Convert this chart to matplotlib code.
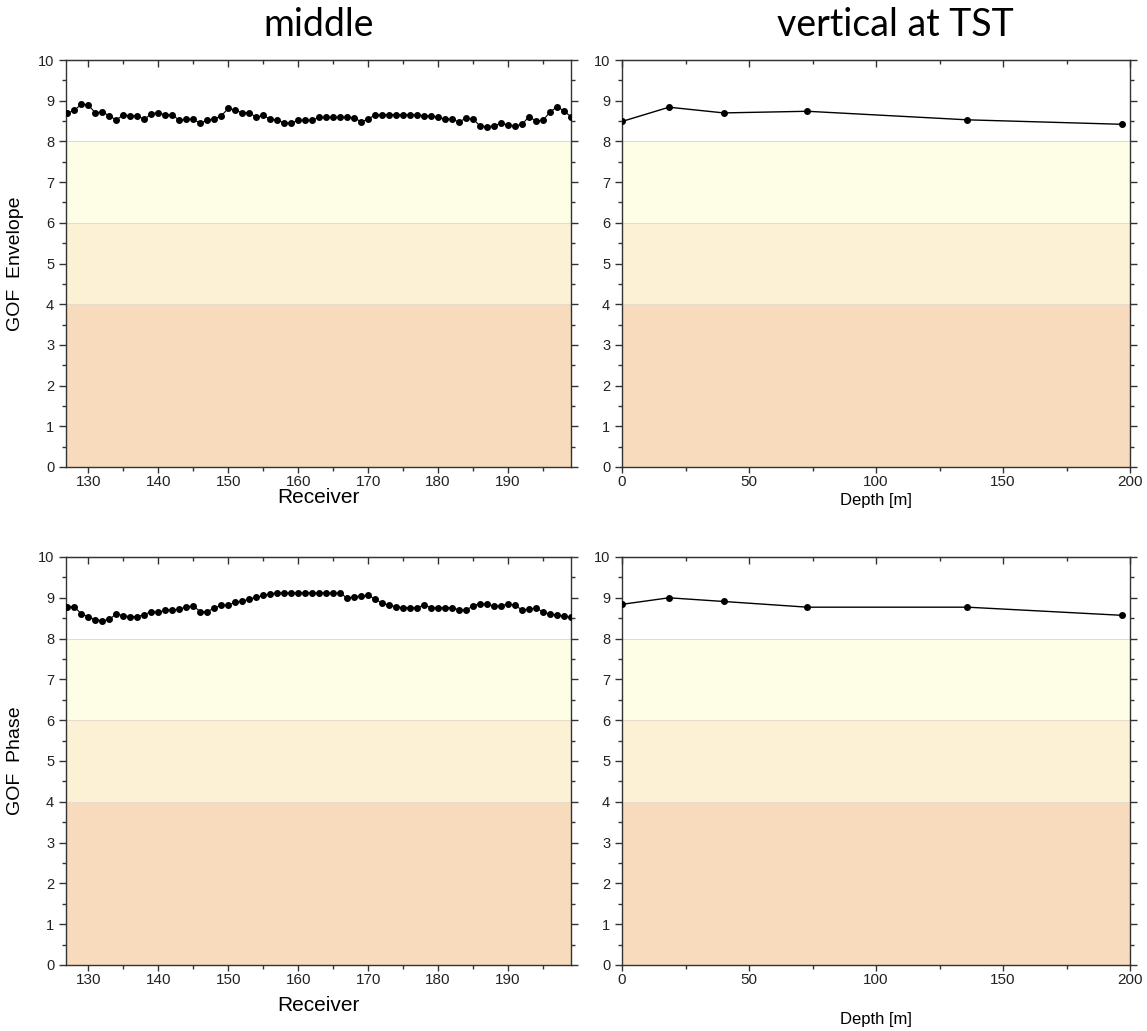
import matplotlib
matplotlib.use('Agg')
import matplotlib.pyplot as plt
from matplotlib.ticker import MultipleLocator
import numpy as np

# receivers along the middle line
receivers = list(range(127, 200))
env_middle = [8.70, 8.76, 8.92, 8.89, 8.70, 8.73, 8.62, 8.53, 8.65, 8.63,
              8.63, 8.54, 8.68, 8.71, 8.65, 8.65, 8.52, 8.54, 8.54, 8.45,
              8.52, 8.55, 8.63, 8.81, 8.77, 8.70, 8.71, 8.59, 8.65, 8.54,
              8.53, 8.45, 8.45, 8.52, 8.52, 8.52, 8.59, 8.59, 8.59, 8.59,
              8.60, 8.58, 8.48, 8.55, 8.65, 8.65, 8.66, 8.66, 8.66, 8.65,
              8.65, 8.63, 8.63, 8.59, 8.55, 8.54, 8.48, 8.57, 8.55, 8.38,
              8.36, 8.38, 8.45, 8.40, 8.38, 8.42, 8.61, 8.50, 8.52, 8.72,
              8.85, 8.75, 8.60]
phase_middle = [8.78, 8.78, 8.60, 8.54, 8.46, 8.44, 8.47, 8.61, 8.56, 8.54,
                8.54, 8.59, 8.66, 8.64, 8.70, 8.70, 8.72, 8.78, 8.80, 8.66,
                8.66, 8.75, 8.82, 8.82, 8.89, 8.92, 8.97, 9.01, 9.06, 9.10,
                9.12, 9.12, 9.12, 9.12, 9.12, 9.12, 9.12, 9.12, 9.11, 9.12,
                8.99, 9.03, 9.04, 9.06, 8.97, 8.87, 8.82, 8.78, 8.76, 8.76,
                8.76, 8.82, 8.76, 8.76, 8.76, 8.76, 8.70, 8.70, 8.80, 8.86,
                8.84, 8.80, 8.80, 8.85, 8.82, 8.70, 8.72, 8.75, 8.65, 8.60,
                8.58, 8.55, 8.52]

# vertical profile at TST
depths = [0, 18.5, 40, 73, 136, 197]
env_tst = [8.49, 8.84, 8.70, 8.74, 8.53, 8.42]
phase_tst = [8.84, 9.00, 8.91, 8.77, 8.77, 8.57]

# quality bands: (low, high, colour)
bands = [(0, 4, '#f8dabd'), (4, 6, '#fdf1d5'), (6, 8, '#fefde6')]

W, H = 1147, 1031
fig = plt.figure(figsize=(W / 100, H / 100), dpi=100)
plt.rcParams['font.family'] = ['Liberation Sans', 'DejaVu Sans']

def axes_px(x0, x1, y0, y1):
    return fig.add_axes([x0 / W, 1 - y1 / H, (x1 - x0) / W, (y1 - y0) / H])

def style(ax, xlim, xmaj, xmin):
    for lo, hi, c in bands:
        ax.axhspan(lo, hi, color=c, lw=0, zorder=0)
    for yb in (4, 6, 8):
        ax.axhline(yb, color='#e6dccb', lw=0.8, zorder=0.5)
    ax.set_xlim(*xlim)
    ax.set_ylim(0, 10)
    ax.xaxis.set_major_locator(MultipleLocator(xmaj))
    ax.xaxis.set_minor_locator(MultipleLocator(xmin))
    ax.yaxis.set_major_locator(MultipleLocator(1))
    ax.yaxis.set_minor_locator(MultipleLocator(0.5))
    for s in ax.spines.values():
        s.set_color('#333333')
        s.set_linewidth(1.0)
    ax.tick_params(which='both', direction='out', top=False, right=True,
                   color='#333333', labelsize=11, labelcolor='#222222')
    ax.tick_params(axis='y', labelsize=10.5)
    ax.tick_params(which='major', length=5, width=1)
    ax.tick_params(which='minor', length=3, width=1)
    ax.tick_params(axis='x', which='major', length=4, pad=2)
    # top ticks point inwards
    top = ax.secondary_xaxis('top')
    top.xaxis.set_major_locator(MultipleLocator(xmaj))
    top.xaxis.set_minor_locator(MultipleLocator(xmin))
    top.tick_params(which='both', direction='in', labeltop=False,
                    color='#333333', width=1)
    top.tick_params(which='major', length=5)
    top.tick_params(which='minor', length=3)
    top.spines['top'].set_color('#333333')

ax_tl = axes_px(66, 571, 60, 467)
ax_tr = axes_px(622, 1130, 60, 467)
ax_bl = axes_px(66, 571, 557, 965)
ax_br = axes_px(622, 1130, 557, 965)

for ax, vals, pad in [(ax_tl, env_middle, -1), (ax_bl, phase_middle, 6)]:
    style(ax, (126.8, 199.0), 10, 5)
    ax.plot(receivers, vals, color='black', lw=0.8, marker='o', ms=4, zorder=3)
    ax.set_xlabel('Receiver', fontsize=15, labelpad=pad)

for ax, vals, pad in [(ax_tr, env_tst, 3), (ax_br, phase_tst, 18)]:
    style(ax, (0, 200), 50, 25)
    ax.plot(depths, vals, color='black', lw=1.0, marker='o', ms=4, zorder=3)
    ax.set_xlabel('Depth [m]', fontsize=12, labelpad=pad)

ax_tl.set_ylabel('GOF  Envelope', fontsize=14, labelpad=10)
ax_bl.set_ylabel('GOF  Phase', fontsize=14, labelpad=10)

fig.text(319 / W, 1 - 25 / H, 'middle', fontsize=27, family=['Lato', 'DejaVu Sans'],
         ha='center', va='center')
fig.text(895 / W, 1 - 25 / H, 'vertical at TST', fontsize=27, family=['Lato', 'DejaVu Sans'],
         ha='center', va='center')

fig.savefig('out.png', dpi=100)
